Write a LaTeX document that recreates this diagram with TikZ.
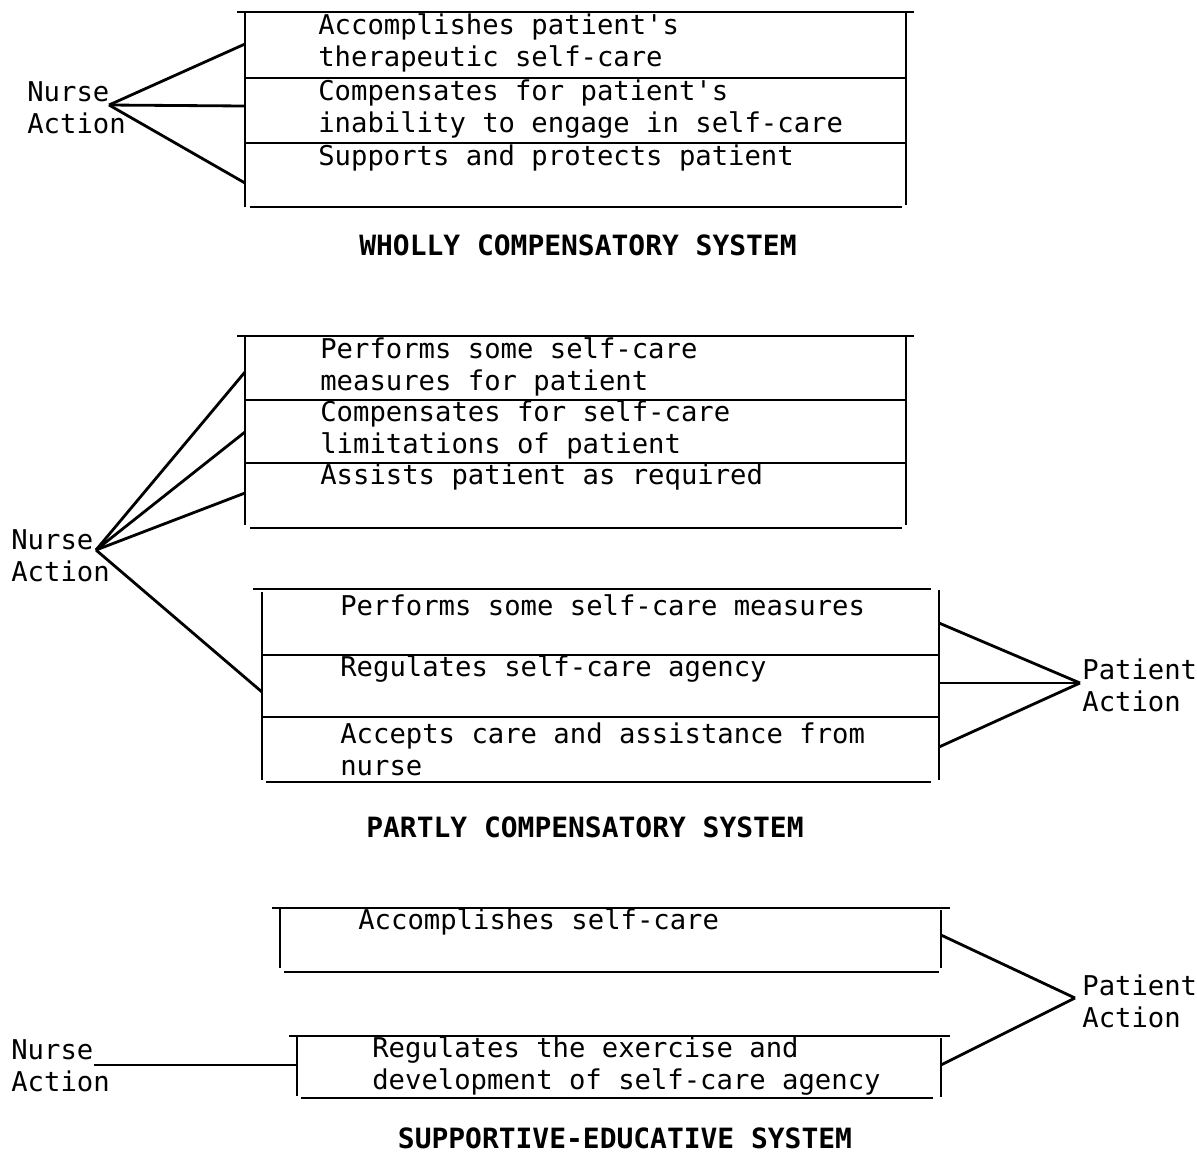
\documentclass[tikz,border=0pt]{standalone}
\usepackage{fontspec}
\setmonofont{DejaVu Sans Mono}
\usepackage{tikz}
\usetikzlibrary{positioning}

\begin{document}
\begin{tikzpicture}[
    x=0.02cm, y=-0.02cm,
    rowtext/.style={anchor=west, align=left, inner sep=0pt, font=\ttfamily\fontsize{15.5}{18.2}\selectfont},
    actlabel/.style={rowtext},
    systitle/.style={inner sep=0pt, font=\ttfamily\bfseries\fontsize{15.9}{18}\selectfont},
    rule/.style={line width=1.3pt},
    link/.style={line width=1.6pt}
]
\useasboundingbox (0,0) rectangle (1197,1154);

% System 1 - Wholly compensatory
\draw[rule] (237,12) -- (914,12);
\draw[rule] (245,12) -- (245,207);
\draw[rule] (906,12) -- (906,205);
\draw[rule] (245,78) -- (906,78);
\draw[rule] (245,143) -- (906,143);
\draw[rule] (250,207) -- (902,207);
\node[rowtext] (w1) at (318,43) {Accomplishes patient's\\therapeutic self-care};
\node[rowtext] (w2) at (318,109) {Compensates for patient's\\inability to engage in self-care};
\node[rowtext] (w3) at (318,158) {Supports and protects patient};
\node[actlabel] (wnurse) at (27,108) {Nurse\\Action};
\coordinate (wn) at (109,105);
\coordinate (w1in) at (245,44);
\coordinate (w2in) at (245,106);
\coordinate (w3in) at (245,183);
\draw[link] (wn) -- (w1in);
\draw[link] (wn) -- (w2in);
\draw[link] (wn) -- (w3in);
\node[systitle] (wtitle) at (578,245) {WHOLLY COMPENSATORY SYSTEM};

% System 2 - Partly compensatory, nurse part
\draw[rule] (237,336) -- (914,336);
\draw[rule] (245,336) -- (245,525);
\draw[rule] (906,336) -- (906,525);
\draw[rule] (245,400) -- (906,400);
\draw[rule] (245,463) -- (906,463);
\draw[rule] (250,528) -- (902,528);
\node[rowtext] (p1) at (320,367) {Performs some self-care\\measures for patient};
\node[rowtext] (p2) at (320,430) {Compensates for self-care\\limitations of patient};
\node[rowtext] (p3) at (320,477) {Assists patient as required};
\node[actlabel] (pnurse) at (11,556) {Nurse\\Action};
\coordinate (pn) at (96,550);
\coordinate (p1in) at (245,372);
\coordinate (p2in) at (245,432);
\coordinate (p3in) at (245,493);
\coordinate (q0in) at (262,692);
\draw[link] (pn) -- (p1in);
\draw[link] (pn) -- (p2in);
\draw[link] (pn) -- (p3in);
\draw[link] (pn) -- (q0in);

% System 2 - Partly compensatory, patient part
\draw[rule] (253,589) -- (931,589);
\draw[rule] (262,592) -- (262,780);
\draw[rule] (939,590) -- (939,780);
\draw[rule] (262,655) -- (939,655);
\draw[rule] (262,717) -- (939,717);
\draw[rule] (266,782) -- (931,782);
\node[rowtext] (q1) at (340,605) {Performs some self-care measures};
\node[rowtext] (q2) at (340,669) {Regulates self-care agency};
\node[rowtext] (q3) at (340,749) {Accepts care and assistance from\\nurse};
\node[actlabel] (qpatient) at (1082,685) {Patient\\Action};
\coordinate (qp) at (1080,683);
\coordinate (q1out) at (939,623);
\coordinate (q2out) at (939,683);
\coordinate (q3out) at (939,747);
\draw[link] (q1out) -- (qp);
\draw[link] (q2out) -- (qp);
\draw[link] (q3out) -- (qp);
\node[systitle] (ptitle) at (585,827) {PARTLY COMPENSATORY SYSTEM};

% System 3 - Supportive-educative
\draw[rule] (272,908) -- (950,908);
\draw[rule] (280,908) -- (280,968);
\draw[rule] (941,910) -- (941,968);
\draw[rule] (284,972) -- (939,972);
\node[rowtext] (s1) at (358,922) {Accomplishes self-care};
\draw[rule] (289,1036) -- (950,1036);
\draw[rule] (297,1036) -- (297,1096);
\draw[rule] (941,1038) -- (941,1097);
\draw[rule] (301,1098) -- (933,1098);
\node[rowtext] (s2) at (372,1066) {Regulates the exercise and\\development of self-care agency};
\node[actlabel] (snurse) at (11,1066) {Nurse\\Action};
\coordinate (sn) at (94,1065);
\coordinate (s2in) at (297,1065);
\draw[link] (sn) -- (s2in);
\node[actlabel] (spatient) at (1082,1001) {Patient\\Action};
\coordinate (sp) at (1075,998);
\coordinate (s1out) at (941,935);
\coordinate (s2out) at (941,1065);
\draw[link] (s1out) -- (sp);
\draw[link] (s2out) -- (sp);
\node[systitle] (stitle) at (625,1138) {SUPPORTIVE-EDUCATIVE SYSTEM};

\end{tikzpicture}
\end{document}
